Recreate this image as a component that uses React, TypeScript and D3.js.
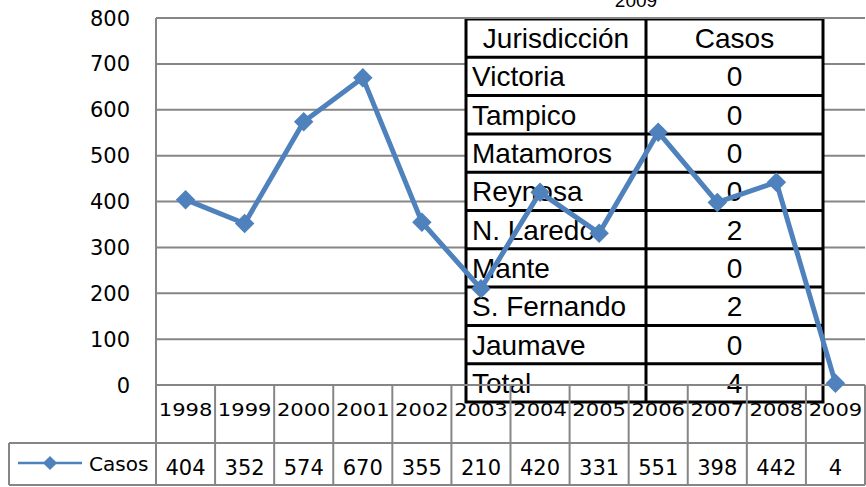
import React, { useEffect, useRef } from 'react';
import * as d3 from 'd3';

// data
const years = ['1998', '1999', '2000', '2001', '2002', '2003', '2004', '2005', '2006', '2007', '2008', '2009'];
const casos = [404, 352, 574, 670, 355, 210, 420, 331, 551, 398, 442, 4];
const yTicks = [0, 100, 200, 300, 400, 500, 600, 700, 800];
const jurisdicciones = ['Victoria', 'Tampico', 'Matamoros', 'Reynosa', 'N. Laredo', 'Mante', 'S. Fernando', 'Jaumave', 'Total'];
const casosJurisdiccion = [0, 0, 0, 0, 2, 0, 2, 0, 4];
const tableTitle = '2009';
const seriesName = 'Casos';

const App = () => {
  const ref = useRef<SVGSVGElement>(null);

  // layout
  const width = 866, height = 487;
  const plotLeft = 156, plotRight = 865, plotTop = 18, plotBottom = 385;
  const yearRowBottom = 443, valueRowBottom = 485, legendLeft = 9;

  const GRID = '#868686';
  const LINE = '#4F81BD';
  const SANS = '"DejaVu Sans", Verdana, sans-serif';
  const ARIAL = '"Liberation Sans", Arial, sans-serif';

  useEffect(() => {
    const svg = d3.select(ref.current);
    svg.selectAll('*').remove();

    const x = d3.scaleBand<string>().domain(years).range([plotLeft, plotRight]).padding(0);
    const y = d3.scaleLinear().domain([0, 800]).range([plotBottom, plotTop]);

    svg.append('rect').attr('width', width).attr('height', height).attr('fill', '#fff');

    // gridlines
    svg.append('g')
      .selectAll('line')
      .data(yTicks.filter(t => t > 0))
      .join('line')
      .attr('x1', plotLeft).attr('x2', plotRight)
      .attr('y1', d => y(d)).attr('y2', d => y(d))
      .attr('stroke', GRID).attr('stroke-width', 2);

    // y tick labels
    svg.append('g')
      .selectAll('text')
      .data(yTicks)
      .join('text')
      .attr('x', 130)
      .attr('y', d => y(d))
      .attr('dy', '0.36em')
      .attr('text-anchor', 'end')
      .attr('font-family', SANS)
      .attr('font-size', 21)
      .attr('fill', '#000')
      .text(d => d);

    // overlay table (2009 by jurisdiction)
    const rows = ['__header', ...jurisdicciones];
    const row = d3.scaleBand<string>().domain(rows).range([19, 402]);
    const colLeft = 466, colMid = 646, colRight = 823;
    const tbl = svg.append('g');

    tbl.append('text')
      .attr('x', 636).attr('y', 7)
      .attr('text-anchor', 'middle')
      .attr('font-family', ARIAL).attr('font-size', 19)
      .text(tableTitle);

    tbl.append('rect')
      .attr('x', colLeft).attr('y', row('__header')!)
      .attr('width', colRight - colLeft)
      .attr('height', row.bandwidth() * rows.length)
      .attr('fill', '#fff')
      .attr('stroke', '#000').attr('stroke-width', 3);

    tbl.selectAll('line.h')
      .data(rows.slice(1))
      .join('line')
      .attr('class', 'h')
      .attr('x1', colLeft).attr('x2', colRight)
      .attr('y1', d => row(d)!).attr('y2', d => row(d)!)
      .attr('stroke', '#000').attr('stroke-width', 3);

    tbl.append('line')
      .attr('x1', colMid).attr('x2', colMid)
      .attr('y1', row('__header')!).attr('y2', row('Total')! + row.bandwidth())
      .attr('stroke', '#000').attr('stroke-width', 3);

    const textY = (d: string) => row(d)! + row.bandwidth() / 2 + 10;

    tbl.append('text')
      .attr('x', (colLeft + colMid) / 2).attr('y', textY('__header'))
      .attr('text-anchor', 'middle')
      .attr('font-family', ARIAL).attr('font-size', 28)
      .text('Jurisdicción');
    tbl.append('text')
      .attr('x', (colMid + colRight) / 2).attr('y', textY('__header'))
      .attr('text-anchor', 'middle')
      .attr('font-family', ARIAL).attr('font-size', 28)
      .text('Casos');

    tbl.selectAll('text.name')
      .data(jurisdicciones)
      .join('text')
      .attr('class', 'name')
      .attr('x', colLeft + 6)
      .attr('y', d => textY(d))
      .attr('font-family', ARIAL).attr('font-size', 28)
      .text(d => d);

    tbl.selectAll('text.val')
      .data(jurisdicciones)
      .join('text')
      .attr('class', 'val')
      .attr('x', (colMid + colRight) / 2)
      .attr('y', d => textY(d))
      .attr('text-anchor', 'middle')
      .attr('font-family', ARIAL).attr('font-size', 28)
      .text((d, i) => casosJurisdiccion[i]);

    // data table below the axis
    const dt = svg.append('g').attr('stroke', GRID).attr('stroke-width', 2);
    dt.append('line').attr('x1', plotLeft).attr('x2', plotRight).attr('y1', plotTop).attr('y2', plotTop);
    dt.append('line').attr('x1', plotLeft).attr('x2', plotRight).attr('y1', plotBottom).attr('y2', plotBottom);
    dt.append('line').attr('x1', legendLeft).attr('x2', plotRight).attr('y1', yearRowBottom).attr('y2', yearRowBottom);
    dt.append('line').attr('x1', legendLeft).attr('x2', plotRight).attr('y1', valueRowBottom).attr('y2', valueRowBottom);
    dt.append('line').attr('x1', plotLeft).attr('x2', plotLeft).attr('y1', plotTop).attr('y2', valueRowBottom);
    dt.append('line').attr('x1', legendLeft).attr('x2', legendLeft).attr('y1', yearRowBottom).attr('y2', valueRowBottom);
    dt.selectAll('line.col')
      .data(years)
      .join('line')
      .attr('class', 'col')
      .attr('x1', d => x(d)! + x.bandwidth()).attr('x2', d => x(d)! + x.bandwidth())
      .attr('y1', plotBottom).attr('y2', valueRowBottom);

    svg.append('g')
      .selectAll('text')
      .data(years)
      .join('text')
      .attr('transform', d => `translate(${x(d)! + x.bandwidth() / 2},416) scale(1.24,1)`)
      .attr('text-anchor', 'middle')
      .attr('font-family', SANS).attr('font-size', 17)
      .text(d => d);

    svg.append('g')
      .selectAll('text')
      .data(casos)
      .join('text')
      .attr('x', (d, i) => x(years[i])! + x.bandwidth() / 2)
      .attr('y', 475)
      .attr('text-anchor', 'middle')
      .attr('font-family', SANS).attr('font-size', 21)
      .text(d => d);

    // legend
    const diamond = d3.symbol(d3.symbolSquare, 100);
    svg.append('line')
      .attr('x1', 18).attr('x2', 82).attr('y1', 463).attr('y2', 463)
      .attr('stroke', LINE).attr('stroke-width', 2.5);
    svg.append('path')
      .attr('d', diamond())
      .attr('transform', 'translate(50,463) rotate(45)')
      .attr('fill', LINE);
    svg.append('text')
      .attr('x', 89).attr('y', 471)
      .attr('font-family', SANS).attr('font-size', 20)
      .text(seriesName);

    // series
    const line = d3.line<number>()
      .x((d, i) => x(years[i])! + x.bandwidth() / 2)
      .y(d => y(d));
    svg.append('path')
      .datum(casos)
      .attr('d', line)
      .attr('fill', 'none')
      .attr('stroke', LINE)
      .attr('stroke-width', 5)
      .attr('stroke-linejoin', 'round');

    const marker = d3.symbol(d3.symbolSquare, 190);
    svg.append('g')
      .selectAll('path')
      .data(casos)
      .join('path')
      .attr('d', marker())
      .attr('transform', (d, i) => `translate(${x(years[i])! + x.bandwidth() / 2},${y(d)}) rotate(45)`)
      .attr('fill', LINE);
  }, []);

  return (
    <svg
      ref={ref}
      width={width}
      height={height}
      style={{ position: 'absolute', left: 0, top: 0, display: 'block' }}
    />
  );
};

export default App;
